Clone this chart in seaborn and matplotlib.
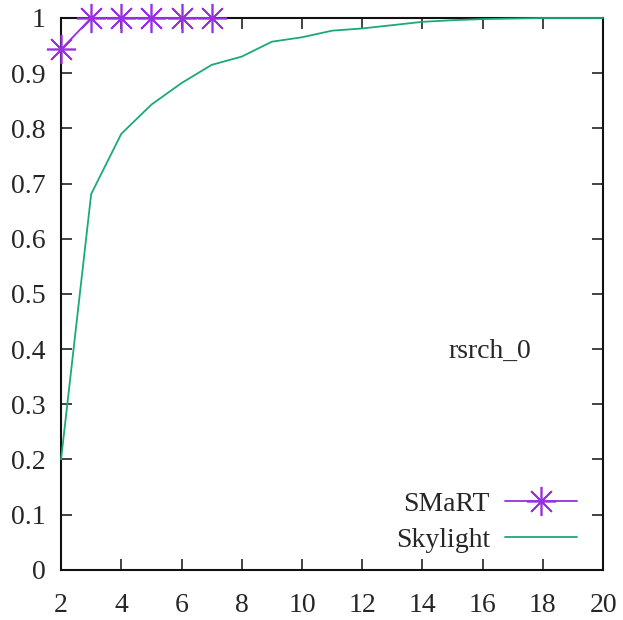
import numpy as np
import pandas as pd
import matplotlib
matplotlib.use("Agg")
import matplotlib.pyplot as plt
import seaborn as sns

# values
smart_x = [2, 3, 4, 5, 6, 7]
smart_y = [0.943, 1.0, 1.0, 1.0, 1.0, 1.0]

skylight_x = [2, 3, 4, 5, 6, 7, 8, 9, 10, 11, 12, 13, 14, 15, 16, 17, 18, 19, 20]
skylight_y = [0.20, 0.681, 0.79, 0.843, 0.882, 0.915, 0.93, 0.957, 0.965, 0.977,
              0.981, 0.987, 0.993, 0.996, 0.998, 0.999, 1.0, 1.0, 1.0]

x_ticks = [2, 4, 6, 8, 10, 12, 14, 16, 18, 20]
y_ticks = [0, 0.1, 0.2, 0.3, 0.4, 0.5, 0.6, 0.7, 0.8, 0.9, 1]
y_labels = ["0", "0.1", "0.2", "0.3", "0.4", "0.5", "0.6", "0.7", "0.8", "0.9", "1"]

sns.set_style("ticks")
plt.rcParams["font.family"] = ["Liberation Serif", "DejaVu Serif"]
fs = 20

smart = pd.DataFrame({"x": smart_x, "y": smart_y})
sky = pd.DataFrame({"x": skylight_x, "y": skylight_y})

fig = plt.figure(figsize=(6.23, 6.20), dpi=100)
ax = fig.add_axes([0.098, 0.081, 0.870, 0.890])

purple = "#9a2ee0"
green = "#1aa97a"
sns.lineplot(data=smart, x="x", y="y", ax=ax, color=purple, lw=1.3,
             marker=(8, 2, 0), markersize=21, markeredgewidth=1.2,
             markeredgecolor=purple, markerfacecolor=purple,
             label="SMaRT", clip_on=False, zorder=4)
sns.lineplot(data=sky, x="x", y="y", ax=ax, color=green, lw=1.3,
             label="Skylight", clip_on=False, zorder=3)

ax.set_xlim(2, 20)
ax.set_ylim(0, 1)
ax.set_xticks(x_ticks)
ax.set_yticks(y_ticks)
ax.set_yticklabels(y_labels)
ax.set_xlabel("")
ax.set_ylabel("")
ax.tick_params(direction="in", length=8, width=1.2, top=True, right=True,
               labelsize=fs, color="#222222")
ax.tick_params(axis="x", pad=17)
ax.tick_params(axis="y", pad=11)
for s in ax.spines.values():
    s.set_visible(True)
    s.set_linewidth(1.5)
    s.set_color("#111111")

ax.text(16.25, 0.395, "rsrch_0", ha="center", va="center", fontsize=fs)

leg = ax.legend(loc="lower right", frameon=False, markerfirst=False,
                fontsize=fs, handlelength=2.6, handletextpad=0.55,
                labelspacing=0.4, borderaxespad=0.0,
                bbox_to_anchor=(0.973, 0.01))
for t in leg.get_texts():
    t.set_ha("right")

fig.savefig("out.png", dpi=100)
